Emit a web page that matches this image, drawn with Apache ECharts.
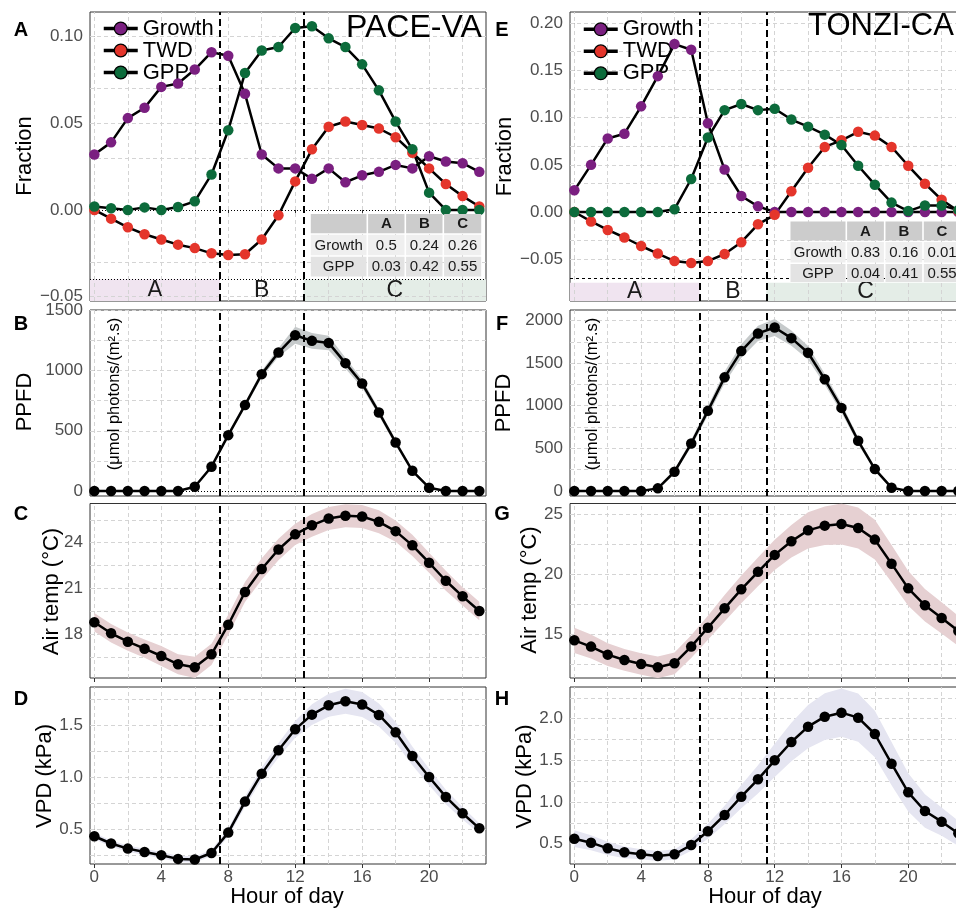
<!DOCTYPE html>
<html>
<head>
<meta charset="utf-8">
<script src="https://cdn.jsdelivr.net/npm/echarts@6/dist/echarts.min.js"></script>
<style>
html, body { margin: 0; padding: 0; background: #fff; }
#main { width: 956px; height: 909px; }
</style>
</head>
<body>
<div id="main"></div>
<script>
// ---- data ----
var hours = [0, 1, 2, 3, 4, 5, 6, 7, 8, 9, 10, 11, 12, 13, 14, 15, 16, 17, 18, 19, 20, 21, 22, 23];
var xTicks = [0, 4, 8, 12, 16, 20];
var xGrid = [0, 2, 4, 6, 8, 10, 12, 14, 16, 18, 20, 22];
var regionNames = ['A', 'B', 'C'];
var tableCols = ['A', 'B', 'C'];
var tableRows = ['Growth', 'GPP'];

// PACE-VA
var paceGrowth = [0.032, 0.039, 0.053, 0.059, 0.071, 0.073, 0.081, 0.091, 0.089, 0.067, 0.032, 0.024, 0.024, 0.018, 0.024, 0.016, 0.020, 0.022, 0.026, 0.024, 0.031, 0.028, 0.027, 0.022];
var paceTwd = [0, -0.005, -0.010, -0.014, -0.017, -0.020, -0.022, -0.025, -0.026, -0.0255, -0.017, -0.003, 0.0165, 0.035, 0.048, 0.051, 0.049, 0.047, 0.042, 0.033, 0.024, 0.015, 0.008, 0.002];
var paceGpp = [0.002, 0.001, 0, 0.0015, 0, 0.0017, 0.005, 0.0205, 0.046, 0.079, 0.092, 0.094, 0.105, 0.106, 0.099, 0.094, 0.084, 0.069, 0.051, 0.035, 0.010, 0, 0, 0];
var paceShares = [[0.5, 0.24, 0.26], [0.03, 0.42, 0.55]];
var paceSplits = [7.5, 12.5];
var paceBandTop = -0.04;
var pacePpfd = [0, 0, 0, 0, 0, 0, 36, 202, 464, 713, 970, 1149, 1293, 1246, 1229, 1061, 892, 652, 403, 168, 28, 0, 0, 0];
var pacePpfdSe = [0, 0, 0, 0, 0, 0, 6, 12, 18, 22, 28, 35, 70, 65, 60, 45, 35, 28, 22, 15, 6, 0, 0, 0];
var paceTemp = [18.79, 18.07, 17.52, 17.06, 16.58, 16.04, 15.84, 16.69, 18.63, 20.77, 22.28, 23.56, 24.55, 25.14, 25.59, 25.77, 25.72, 25.37, 24.76, 23.83, 22.69, 21.51, 20.49, 19.53];
var paceTempSe = [0.6, 0.6, 0.6, 0.6, 0.65, 0.65, 0.7, 0.7, 0.65, 0.65, 0.7, 0.7, 0.7, 0.75, 0.75, 0.75, 0.75, 0.75, 0.7, 0.7, 0.65, 0.65, 0.6, 0.6];
var paceVpd = [0.43, 0.36, 0.311, 0.279, 0.248, 0.212, 0.206, 0.269, 0.465, 0.763, 1.032, 1.256, 1.458, 1.599, 1.689, 1.728, 1.696, 1.596, 1.429, 1.202, 1.0, 0.808, 0.651, 0.506];
var paceVpdSe = [0.03, 0.03, 0.03, 0.03, 0.03, 0.03, 0.03, 0.03, 0.04, 0.05, 0.06, 0.07, 0.08, 0.1, 0.11, 0.12, 0.12, 0.11, 0.1, 0.09, 0.08, 0.07, 0.06, 0.05];

// TONZI-CA
var tonziGrowth = [0.023, 0.050, 0.078, 0.083, 0.112, 0.144, 0.178, 0.172, 0.094, 0.045, 0.017, 0.006, 0, 0, 0, 0, 0, 0, 0, 0, 0, 0, 0, 0];
var tonziTwd = [0, -0.010, -0.019, -0.027, -0.036, -0.044, -0.052, -0.054, -0.052, -0.0445, -0.032, -0.013, -0.003, 0.022, 0.047, 0.069, 0.076, 0.085, 0.081, 0.069, 0.049, 0.030, 0.013, 0.001];
var tonziGpp = [0, 0, 0, 0, 0, 0, 0.003, 0.035, 0.079, 0.108, 0.1145, 0.108, 0.1095, 0.098, 0.0905, 0.082, 0.071, 0.049, 0.029, 0.010, 0.001, 0.007, 0.007, 0.002];
var tonziShares = [[0.83, 0.16, 0.01], [0.04, 0.41, 0.55]];
var tonziSplits = [7.5, 11.5];
var tonziBandTop = -0.075;
var tonziPpfd = [0, 0, 0, 0, 0, 31, 226, 557, 940, 1333, 1641, 1848, 1918, 1793, 1622, 1310, 975, 589, 257, 39, 0, 0, 0, 0];
var tonziPpfdSe = [0, 0, 0, 0, 0, 3, 25, 40, 55, 70, 80, 90, 100, 90, 80, 65, 55, 40, 25, 10, 0, 0, 0, 0];
var tonziTemp = [14.50, 13.98, 13.31, 12.87, 12.53, 12.26, 12.59, 13.98, 15.55, 17.16, 18.74, 20.19, 21.60, 22.73, 23.64, 24.03, 24.17, 23.84, 22.87, 20.87, 18.82, 17.41, 16.36, 15.28];
var tonziTempSe = [1.05, 1.0, 0.95, 0.9, 0.9, 0.9, 0.9, 0.95, 1.0, 1.1, 1.15, 1.2, 1.25, 1.35, 1.5, 1.6, 1.7, 1.7, 1.65, 1.55, 1.45, 1.35, 1.3, 1.25];
var tonziVpd = [0.56, 0.512, 0.444, 0.396, 0.372, 0.352, 0.372, 0.484, 0.648, 0.844, 1.064, 1.272, 1.5, 1.72, 1.904, 2.024, 2.072, 2.012, 1.816, 1.46, 1.116, 0.892, 0.764, 0.624];
var tonziVpdSe = [0.1, 0.09, 0.08, 0.07, 0.06, 0.06, 0.06, 0.07, 0.09, 0.11, 0.14, 0.17, 0.2, 0.23, 0.26, 0.28, 0.29, 0.29, 0.28, 0.26, 0.23, 0.2, 0.17, 0.15];

// y tick labels and grid lines
var paceFracTicks = [-0.05, 0, 0.05, 0.10];
var paceFracGrid = [-0.05, -0.025, 0.025, 0.05, 0.075, 0.10];
var tonziFracTicks = [-0.05, 0, 0.05, 0.10, 0.15, 0.20];
var tonziFracGrid = [-0.05, -0.025, 0.025, 0.05, 0.075, 0.10, 0.125, 0.15, 0.175, 0.20];
var pacePpfdTicks = [0, 500, 1000, 1500];
var pacePpfdGrid = [250, 500, 750, 1000, 1250, 1500];
var tonziPpfdTicks = [0, 500, 1000, 1500, 2000];
var tonziPpfdGrid = [250, 500, 750, 1000, 1250, 1500, 1750, 2000];
var paceTempTicks = [18, 21, 24];
var paceTempGrid = [16.5, 18, 19.5, 21, 22.5, 24, 25.5];
var tonziTempTicks = [15, 20, 25];
var tonziTempGrid = [12.5, 15, 17.5, 20, 22.5, 25];
var paceVpdTicks = [0.5, 1.0, 1.5];
var paceVpdGrid = [0.25, 0.5, 0.75, 1.0, 1.25, 1.5, 1.75];
var tonziVpdTicks = [0.5, 1.0, 1.5, 2.0];
var tonziVpdGrid = [0.5, 0.75, 1.0, 1.25, 1.5, 1.75, 2.0, 2.25];

// ---- layout / style ----
var FONT = 'Liberation Sans, Arial, Helvetica, sans-serif';
var PURPLE = '#7a1f80', RED = '#e4352b', GREEN = '#0c6b3b';
var X_MIN = -0.26, X_MAX = 23.4;
var colGeom = [{ left: 90, width: 396 }, { left: 570, width: 395 }];
var rowGeom = [{ top: 12, height: 289 }, { top: 310, height: 186 }, { top: 503.5, height: 174.5 }, { top: 687, height: 177 }];

function fmtFrac(v) { return v.toFixed(2).replace('-', '\u2212'); }
function fmtInt(v) { return String(v); }
function fmtOne(v) { return v.toFixed(1); }

var panels = [
  { col: 0, row: 0, min: -0.0525, max: 0.1142, ticks: paceFracTicks, grid: paceFracGrid, fmt: fmtFrac, splits: paceSplits,
    frac: [paceGrowth, paceTwd, paceGpp], bandTop: paceBandTop, hType: [1, 2] },
  { col: 0, row: 1, min: -41, max: 1502, ticks: pacePpfdTicks, grid: pacePpfdGrid, fmt: fmtInt, splits: paceSplits,
    mean: pacePpfd, se: pacePpfdSe, fill: '#c6cacb', zero: true },
  { col: 0, row: 2, min: 15.14, max: 26.57, ticks: paceTempTicks, grid: paceTempGrid, fmt: fmtInt, splits: paceSplits,
    mean: paceTemp, se: paceTempSe, fill: '#e6d0d2' },
  { col: 0, row: 3, min: 0.163, max: 1.865, ticks: paceVpdTicks, grid: paceVpdGrid, fmt: fmtOne, splits: paceSplits,
    mean: paceVpd, se: paceVpdSe, fill: '#e5e5f1' },
  { col: 1, row: 0, min: -0.0943, max: 0.212, ticks: tonziFracTicks, grid: tonziFracGrid, fmt: fmtFrac, splits: tonziSplits,
    frac: [tonziGrowth, tonziTwd, tonziGpp], bandTop: tonziBandTop, hType: [3, 3] },
  { col: 1, row: 1, min: -58.5, max: 2123, ticks: tonziPpfdTicks, grid: tonziPpfdGrid, fmt: fmtInt, splits: tonziSplits,
    mean: tonziPpfd, se: tonziPpfdSe, fill: '#c6cacb', zero: true },
  { col: 1, row: 2, min: 11.37, max: 25.87, ticks: tonziTempTicks, grid: tonziTempGrid, fmt: fmtInt, splits: tonziSplits,
    mean: tonziTemp, se: tonziTempSe, fill: '#e6d0d2' },
  { col: 1, row: 3, min: 0.256, max: 2.38, ticks: tonziVpdTicks, grid: tonziVpdGrid, fmt: fmtOne, splits: tonziSplits,
    mean: tonziVpd, se: tonziVpdSe, fill: '#e5e5f1' }
];

function pairs(ys) { return hours.map(function (h, i) { return [h, ys[i]]; }); }

var grids = [], xAxes = [], yAxes = [], series = [];

panels.forEach(function (p, k) {
  grids.push({
    left: colGeom[p.col].left, width: colGeom[p.col].width,
    top: rowGeom[p.row].top, height: rowGeom[p.row].height,
    outerBoundsMode: 'none', containLabel: false,
    show: true, borderColor: '#333', borderWidth: 1, backgroundColor: '#fff'
  });
  xAxes.push({
    type: 'value', gridIndex: k, min: X_MIN, max: X_MAX,
    axisLine: { show: false }, splitLine: { show: false },
    axisTick: { show: true, length: 4, customValues: xTicks, lineStyle: { color: '#333' } },
    axisLabel: { show: p.row === 3, customValues: xTicks, fontSize: 17, color: '#4d4d4d', margin: 5, fontFamily: FONT }
  });
  yAxes.push({
    type: 'value', gridIndex: k, min: p.min, max: p.max,
    axisLine: { show: false }, splitLine: { show: false },
    axisTick: { show: true, length: 4, customValues: p.ticks, lineStyle: { color: '#333' } },
    axisLabel: { customValues: p.ticks, formatter: p.fmt, fontSize: 17, color: '#4d4d4d', margin: 7, fontFamily: FONT }
  });

  var ax = { xAxisIndex: k, yAxisIndex: k };

  // region bands A / B / C
  if (p.frac) {
    var bandColors = ['#f0e4f0', 'rgba(255,255,255,0)', '#e4ede7'];
    var edges = [X_MIN, p.splits[0], p.splits[1], X_MAX];
    series.push(Object.assign({
      type: 'line', name: 'bands' + k, data: [], silent: true,
      markArea: {
        silent: true, z: 1,
        label: { show: true, position: 'inside', fontSize: 23, color: '#1a1a1a', fontFamily: FONT },
        data: regionNames.map(function (nm, j) {
          return [{ name: nm, xAxis: edges[j], yAxis: p.min, itemStyle: { color: bandColors[j] } },
                  { xAxis: edges[j + 1], yAxis: p.bandTop }];
        })
      }
    }, ax));
  }

  // background grid lines
  series.push(Object.assign({
    type: 'line', name: 'grid' + k, data: [], silent: true,
    markLine: {
      silent: true, z: 2, symbol: ['none', 'none'], label: { show: false },
      lineStyle: { color: '#d4d4d4', type: [4, 3], width: 1 },
      data: xGrid.map(function (x) { return { xAxis: x }; })
        .concat(p.grid.map(function (y) { return { yAxis: y }; }))
    }
  }, ax));

  // ribbon (mean +/- se) as one polygon
  if (p.mean) {
    series.push(Object.assign({
      type: 'custom', name: 'band' + k, silent: true, z: 3, clip: true,
      data: hours.map(function (h, i) { return [h, p.mean[i] - p.se[i], p.mean[i] + p.se[i]]; }),
      encode: { x: 0, y: [1, 2] },
      renderItem: function (params, api) {
        if (params.dataIndex !== 0) return null;
        var up = [], lo = [];
        hours.forEach(function (h, i) {
          up.push(api.coord([h, p.mean[i] + p.se[i]]));
          lo.push(api.coord([h, p.mean[i] - p.se[i]]));
        });
        return { type: 'polygon', shape: { points: up.concat(lo.reverse()) }, style: { fill: p.fill } };
      }
    }, ax));
  }

  // reference lines (phase splits, zero and band lines)
  var refs = p.splits.map(function (x) {
    return { xAxis: x, lineStyle: { type: [7, 4], width: 2, color: '#000' } };
  });
  if (p.frac) {
    refs.push({ yAxis: 0, lineStyle: { type: p.hType, width: 1, color: '#000' } });
    refs.push({ yAxis: p.bandTop, lineStyle: { type: p.hType, width: 1, color: '#000' } });
  }
  if (p.zero) {
    refs.push({ yAxis: 0, lineStyle: { type: [1, 2], width: 1, color: '#000' } });
  }
  series.push(Object.assign({
    type: 'line', name: 'ref' + k, data: [], silent: true,
    markLine: { silent: true, z: 4, symbol: ['none', 'none'], label: { show: false }, data: refs }
  }, ax));

  // data lines
  if (p.frac) {
    var names = ['Growth', 'TWD', 'GPP'];
    var colors = [PURPLE, RED, GREEN];
    p.frac.forEach(function (ys, j) {
      series.push(Object.assign({
        type: 'line', name: names[j], data: pairs(ys), z: 5,
        symbol: 'circle', symbolSize: 10.5,
        lineStyle: { color: '#000', width: 2.5 },
        itemStyle: { color: colors[j], borderColor: colors[j], borderWidth: 0 },
        emphasis: { disabled: true }
      }, ax));
    });
  } else {
    series.push(Object.assign({
      type: 'line', name: 'mean' + k, data: pairs(p.mean), z: 5,
      symbol: 'circle', symbolSize: 10.5,
      lineStyle: { color: '#000', width: 2.5 },
      itemStyle: { color: '#000' },
      emphasis: { disabled: true }
    }, ax));
  }
});

// ---- text annotations ----
var graphics = [];
function txt(s, x, y, size, opts) {
  opts = opts || {};
  graphics.push({
    type: 'text', x: x, y: y, rotation: opts.rot || 0, z: 20,
    style: {
      text: s, fill: opts.color || '#000', fontSize: size, fontFamily: FONT,
      fontWeight: opts.bold ? 'bold' : 'normal',
      align: opts.align || 'center', textAlign: opts.align || 'center',
      verticalAlign: 'middle', textVerticalAlign: 'middle'
    }
  });
}
var UP = Math.PI / 2;

// panel letters
txt('A', 21, 30, 20, { bold: true }); txt('B', 21, 324, 20, { bold: true });
txt('C', 21, 514, 20, { bold: true }); txt('D', 21, 699, 20, { bold: true });
txt('E', 502, 30, 20, { bold: true }); txt('F', 502, 324, 20, { bold: true });
txt('G', 502, 514, 20, { bold: true }); txt('H', 502, 699, 20, { bold: true });

// site titles
txt('PACE-VA', 346, 28.5, 32, { align: 'left' });
txt('TONZI-CA', 808, 26.5, 31, { align: 'left' });

// axis titles
txt('Fraction', 25, 156, 22, { rot: UP }); txt('Fraction', 505, 156.5, 22, { rot: UP });
txt('PPFD', 25, 402, 22, { rot: UP }); txt('PPFD', 503.5, 403, 22, { rot: UP });
txt('Air temp (\u00B0C)', 51.7, 591.5, 22, { rot: UP }); txt('Air temp (\u00B0C)', 529.7, 590, 22, { rot: UP });
txt('VPD (kPa)', 45, 776, 22, { rot: UP }); txt('VPD (kPa)', 524.7, 776.5, 22, { rot: UP });
txt('(\u03BCmol photons/(m\u00B2.s)', 114, 394, 16.5, { rot: UP });
txt('(\u03BCmol photons/(m\u00B2.s)', 592, 394, 16.5, { rot: UP });
txt('Hour of day', 287, 897, 22); txt('Hour of day', 765, 897, 22);

// share tables
function addTable(colEdges, rowEdges, shares) {
  var fills = ['#cccccc', '#efefef', '#e3e3e3'];
  for (var r = 0; r < 3; r++) {
    for (var c = 0; c < 4; c++) {
      var x0 = colEdges[c], x1 = colEdges[c + 1], y0 = rowEdges[r], y1 = rowEdges[r + 1];
      graphics.push({ type: 'rect', z: 19, shape: { x: x0 + 0.8, y: y0 + 0.8, width: x1 - x0 - 1.6, height: y1 - y0 - 1.6 },
        style: { fill: fills[r] } });
      var s = r === 0 ? (c === 0 ? '' : tableCols[c - 1]) : (c === 0 ? tableRows[r - 1] : String(shares[r - 1][c - 1]));
      if (s) txt(s, (x0 + x1) / 2, (y0 + y1) / 2 + 0.5, 15, { bold: r === 0, color: '#1a1a1a' });
    }
  }
}
addTable([310, 367.3, 405.3, 443.3, 482], [213.3, 234, 256, 277.3], paceShares);
addTable([789.7, 846.3, 884.7, 923, 961], [220.7, 241.3, 263.3, 282.7], tonziShares);

// ---- legends ----
function legendAt(left, top, lh) {
  return {
    left: left, top: top, orient: 'vertical', itemGap: 0, itemWidth: 34, itemHeight: 16,
    selectedMode: false, data: ['Growth', 'TWD', 'GPP'],
    textStyle: { fontSize: 22, lineHeight: lh, color: '#000', fontFamily: FONT },
    lineStyle: { width: 3.5, color: '#000' },
    itemStyle: { borderColor: '#000', borderWidth: 1.2 }
  };
}

var myChart = echarts.init(document.getElementById('main'));
var option = {
  animation: false,
  backgroundColor: '#fff',
  textStyle: { fontFamily: FONT },
  grid: grids,
  xAxis: xAxes,
  yAxis: yAxes,
  legend: [legendAt(97, 12.5, 16.3), legendAt(577, 13.3, 18.7)],
  series: series,
  graphic: { elements: graphics }
};
myChart.setOption(option);
</script>
</body>
</html>
